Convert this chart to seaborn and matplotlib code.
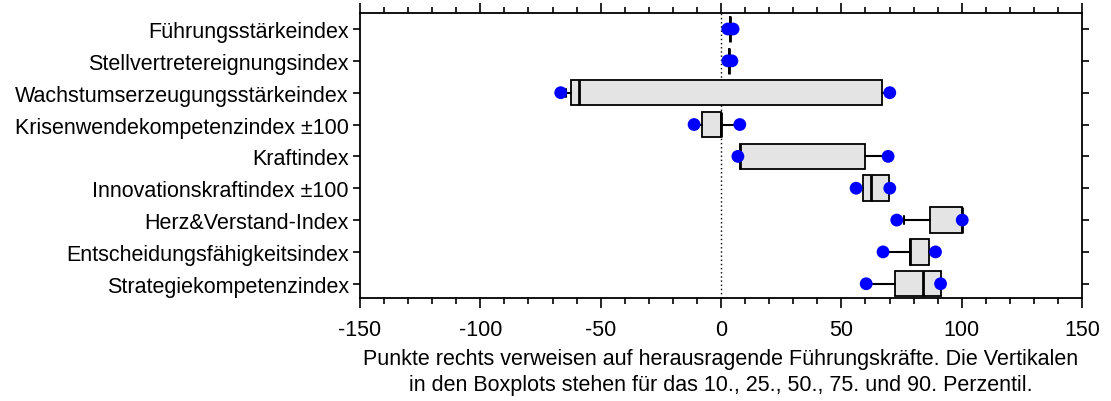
import matplotlib
matplotlib.use("Agg")
import matplotlib.pyplot as plt
from matplotlib.ticker import MultipleLocator
import seaborn as sns
import pandas as pd

# %%
labels = [
    "Führungsstärkeindex",
    "Stellvertretereignungsindex",
    "Wachstumserzeugungsstärkeindex",
    "Krisenwendekompetenzindex ±100",
    "Kraftindex",
    "Innovationskraftindex ±100",
    "Herz&Verstand-Index",
    "Entscheidungsfähigkeitsindex",
    "Strategiekompetenzindex",
]
p10 = [3.9, 3.2, -64.5, -10.5, 7.0, 56.5, 75.8, 67.5, 60.5]
p25 = [3.9, 3.2, -62.4, -7.8, 7.8, 58.8, 86.9, 78.5, 72.1]
p50 = [3.9, 3.2, -58.8, 0.0, 7.8, 62.3, 100.0, 78.5, 84.1]
p75 = [3.9, 3.2, 66.8, 0.0, 59.6, 69.7, 100.0, 86.5, 91.3]
p90 = [3.9, 3.2, 69.5, 7.5, 69.0, 69.9, 100.0, 88.8, 91.2]
punkt_links = [2.8, 2.8, -66.6, -11.2, 7.0, 56.1, 73.0, 67.3, 60.3]
punkt_rechts = [5.0, 4.5, 70.1, 7.8, 69.4, 70.1, 100.2, 89.1, 91.2]
xlabel = ("Punkte rechts verweisen auf herausragende Führungskräfte. Die Vertikalen\n"
          "in den Boxplots stehen für das 10., 25., 50., 75. und 90. Perzentil.")

# %%
sns.set_style("ticks")
plt.rcParams["font.family"] = ["Liberation Sans", "DejaVu Sans"]
plt.rcParams["font.size"] = 15.5
plt.rcParams["axes.unicode_minus"] = False
plt.rcParams["text.color"] = "black"
plt.rcParams["axes.labelcolor"] = "black"
plt.rcParams["xtick.color"] = "black"
plt.rcParams["ytick.color"] = "black"

fig = plt.figure(figsize=(11.11, 4.02), dpi=100)
ax = fig.add_axes([0.324, 0.256, 0.65, 0.709])

stats = []
for i, lab in enumerate(labels):
    stats.append(dict(label=lab, whislo=p10[i], q1=p25[i], med=p50[i],
                      q3=p75[i], whishi=p90[i]))

pos = list(range(len(labels)))
ax.axvline(0, color="black", ls=(0, (1, 2)), lw=1, zorder=1)
ax.bxp(stats, positions=pos, widths=0.8, vert=False, showfliers=False,
       patch_artist=True, manage_ticks=False, capwidths=0.25,
       boxprops=dict(facecolor="#e4e4e4", edgecolor="black", lw=1.3),
       medianprops=dict(color="black", lw=2),
       whiskerprops=dict(color="black", lw=1.5),
       capprops=dict(color="black", lw=1.5), zorder=2)

df = pd.DataFrame({
    "wert": punkt_links + punkt_rechts,
    "index": labels + labels,
})
sns.scatterplot(data=df, x="wert", y="index", color="#0000ff", s=85,
                edgecolor="none", linewidth=0, zorder=5, ax=ax, legend=False)

ax.set_xlim(-150, 150)
ax.set_ylim(len(labels) - 0.55, -0.5)
ax.set_yticks(pos)
ax.set_yticklabels(labels)
ax.xaxis.set_major_locator(MultipleLocator(50))
ax.xaxis.set_minor_locator(MultipleLocator(10))
ax.tick_params(axis="x", which="major", direction="out", length=7, width=1.2,
               top=True, bottom=True, labeltop=False, pad=8)
ax.tick_params(axis="x", which="minor", direction="out", length=4, width=1.2,
               top=True, bottom=True)
ax.tick_params(axis="y", which="major", direction="out", length=5, width=1.2,
               left=True, right=True, labelright=False, pad=3)
ax.set_xlabel(xlabel, linespacing=1.3, labelpad=6)
ax.set_ylabel("")
for s in ax.spines.values():
    s.set_visible(True)
    s.set_color("black")
    s.set_linewidth(1.3)

fig.savefig("out.png", dpi=100)
